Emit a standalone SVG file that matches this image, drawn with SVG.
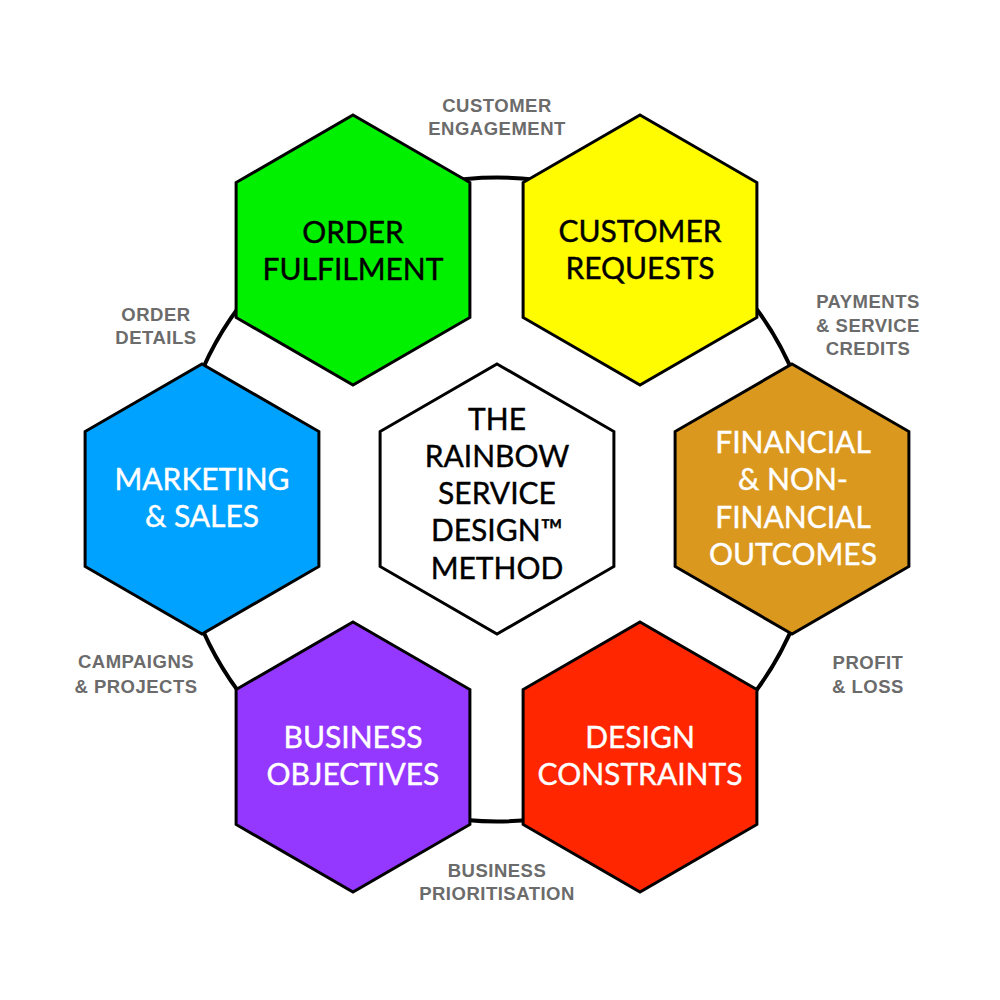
<svg xmlns="http://www.w3.org/2000/svg" xmlns:xlink="http://www.w3.org/1999/xlink" width="1000" height="1000" viewBox="0 0 1000 1000">
<style>
.hex{stroke:#000;stroke-width:3;stroke-linejoin:miter}
.t{font-family:Lato,"Open Sans","Noto Sans",sans-serif;font-size:30px;text-anchor:middle;stroke-width:0.4px}
.dk{fill:#000;stroke:#000}
.lt{fill:#fff;stroke:#fff}
.lbl{font-family:"Liberation Sans",Arial,sans-serif;font-weight:bold;font-size:18.5px;fill:#6b6b6b;text-anchor:middle;letter-spacing:0.5px}
</style>
<defs>
<polygon id="hex" points="0,-135 116.9,-67.5 116.9,67.5 0,135 -116.9,67.5 -116.9,-67.5"/>
</defs>
<rect width="1000" height="1000" fill="#fff"/>
<g id="connectors">
<circle cx="497" cy="499.5" r="322" fill="#fff" stroke="#000" stroke-width="4"/>
</g>
<g id="order-fulfilment">
<use href="#hex" x="353" y="250" class="hex" fill="#00f000"/>
<text class="t dk" x="353" y="243">ORDER</text>
<text class="t dk" x="353" y="280">FULFILMENT</text>
</g>
<g id="customer-requests">
<use href="#hex" x="640" y="250" class="hex" fill="#fffb00"/>
<text class="t dk" x="640" y="242">CUSTOMER</text>
<text class="t dk" x="640" y="279">REQUESTS</text>
</g>
<g id="financial-outcomes">
<use href="#hex" x="792" y="499" class="hex" fill="#da981f"/>
<text class="t lt" x="793" y="453">FINANCIAL</text>
<text class="t lt" x="793" y="490">&amp; NON-</text>
<text class="t lt" x="793" y="528">FINANCIAL</text>
<text class="t lt" x="793" y="565">OUTCOMES</text>
</g>
<g id="design-constraints">
<use href="#hex" x="640" y="757" class="hex" fill="#ff2600"/>
<text class="t lt" x="640" y="748">DESIGN</text>
<text class="t lt" x="640" y="785">CONSTRAINTS</text>
</g>
<g id="business-objectives">
<use href="#hex" x="353" y="757" class="hex" fill="#9437ff"/>
<text class="t lt" x="353" y="748">BUSINESS</text>
<text class="t lt" x="353" y="785">OBJECTIVES</text>
</g>
<g id="marketing-sales">
<use href="#hex" x="202" y="499" class="hex" fill="#00a2ff"/>
<text class="t lt" x="202" y="490">MARKETING</text>
<text class="t lt" x="202" y="527">&amp; SALES</text>
</g>
<g id="rainbow-method">
<use href="#hex" x="497" y="499" class="hex" fill="#fff"/>
<text class="t dk" x="497" y="430">THE</text>
<text class="t dk" x="497" y="467">RAINBOW</text>
<text class="t dk" x="497" y="504">SERVICE</text>
<text class="t dk" x="497" y="541">DESIGN™</text>
<text class="t dk" x="497" y="579">METHOD</text>
</g>
<g id="labels">
<text class="lbl" x="497" y="112">CUSTOMER</text>
<text class="lbl" x="497" y="135">ENGAGEMENT</text>
<text class="lbl" x="868" y="308">PAYMENTS</text>
<text class="lbl" x="868" y="332">&amp; SERVICE</text>
<text class="lbl" x="868" y="355">CREDITS</text>
<text class="lbl" x="156" y="321">ORDER</text>
<text class="lbl" x="156" y="344">DETAILS</text>
<text class="lbl" x="136" y="668">CAMPAIGNS</text>
<text class="lbl" x="136" y="693">&amp; PROJECTS</text>
<text class="lbl" x="868" y="669">PROFIT</text>
<text class="lbl" x="868" y="693">&amp; LOSS</text>
<text class="lbl" x="497" y="877">BUSINESS</text>
<text class="lbl" x="497" y="900">PRIORITISATION</text>
</g>
</svg>
